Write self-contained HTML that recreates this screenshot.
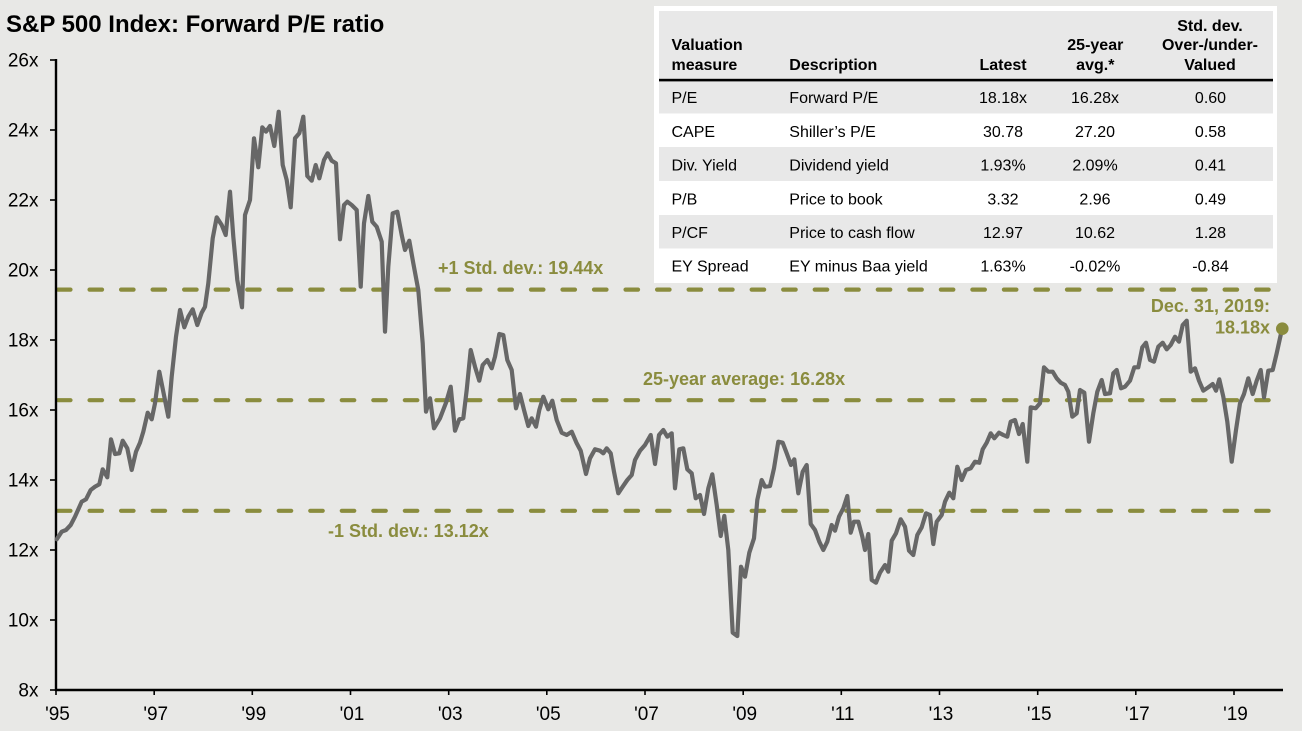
<!DOCTYPE html>
<html>
<head>
<meta charset="utf-8">
<style>
  html,body{margin:0;padding:0;background:#e8e8e6;}
  body{width:1302px;height:731px;overflow:hidden;}
  svg{display:block;font-family:"Liberation Sans",Arial,sans-serif;}
</style>
</head>
<body>
<svg width="1302" height="731" viewBox="0 0 1302 731" xmlns="http://www.w3.org/2000/svg">
  <rect x="0" y="0" width="1302" height="731" fill="#e8e8e6"/>

  <!-- Title -->
  <text x="6" y="32" font-size="24" font-weight="bold" fill="#000">S&amp;P 500 Index: Forward P/E ratio</text>

  <!-- Dashed reference lines -->
  <g stroke="#8a8c3e" stroke-width="4.2" stroke-linecap="round" stroke-dasharray="12.5 19.03" fill="none">
    <line x1="58" y1="289.6" x2="1272" y2="289.6"/>
    <line x1="58" y1="400.2" x2="1272" y2="400.2"/>
    <line x1="58" y1="510.8" x2="1272" y2="510.8"/>
  </g>

  <!-- Annotation labels -->
  <g font-size="18" font-weight="bold" fill="#8a8c3e">
    <text x="438" y="274">+1 Std. dev.: 19.44x</text>
    <text x="643" y="385">25-year average: 16.28x</text>
    <text x="328" y="537">-1 Std. dev.: 13.12x</text>
    <text x="1270" y="312" text-anchor="end">Dec. 31, 2019:</text>
    <text x="1270" y="333.5" text-anchor="end">18.18x</text>
  </g>

  <!-- Axes -->
  <g stroke="#000" stroke-width="2.4" fill="none">
    <line x1="56" y1="59" x2="56" y2="691"/>
    <line x1="55" y1="690" x2="1283" y2="690"/>
  </g>
  <g stroke="#000" stroke-width="1.6">
    <line x1="50" y1="60" x2="56" y2="60"/>
    <line x1="50" y1="130" x2="56" y2="130"/>
    <line x1="50" y1="200" x2="56" y2="200"/>
    <line x1="50" y1="270" x2="56" y2="270"/>
    <line x1="50" y1="340" x2="56" y2="340"/>
    <line x1="50" y1="410" x2="56" y2="410"/>
    <line x1="50" y1="480" x2="56" y2="480"/>
    <line x1="50" y1="550" x2="56" y2="550"/>
    <line x1="50" y1="620" x2="56" y2="620"/>
    <line x1="50" y1="690" x2="56" y2="690"/>

    <line x1="56" y1="690" x2="56" y2="695"/>
    <line x1="154.2" y1="690" x2="154.2" y2="695"/>
    <line x1="252.3" y1="690" x2="252.3" y2="695"/>
    <line x1="350.5" y1="690" x2="350.5" y2="695"/>
    <line x1="448.7" y1="690" x2="448.7" y2="695"/>
    <line x1="546.8" y1="690" x2="546.8" y2="695"/>
    <line x1="645" y1="690" x2="645" y2="695"/>
    <line x1="743.2" y1="690" x2="743.2" y2="695"/>
    <line x1="841.3" y1="690" x2="841.3" y2="695"/>
    <line x1="939.5" y1="690" x2="939.5" y2="695"/>
    <line x1="1037.7" y1="690" x2="1037.7" y2="695"/>
    <line x1="1135.8" y1="690" x2="1135.8" y2="695"/>
    <line x1="1234" y1="690" x2="1234" y2="695"/>
  </g>

  <!-- Y labels -->
  <g font-size="19" fill="#000" text-anchor="end">
    <text x="38.5" y="66.7">26x</text>
    <text x="38.5" y="136.7">24x</text>
    <text x="38.5" y="206.7">22x</text>
    <text x="38.5" y="276.7">20x</text>
    <text x="38.5" y="346.7">18x</text>
    <text x="38.5" y="416.7">16x</text>
    <text x="38.5" y="486.7">14x</text>
    <text x="38.5" y="556.7">12x</text>
    <text x="38.5" y="626.7">10x</text>
    <text x="38.5" y="696.7">8x</text>
  </g>

  <!-- X labels -->
  <g font-size="19" fill="#000" text-anchor="middle">
    <text x="57.5" y="720">'95</text>
    <text x="155.7" y="720">'97</text>
    <text x="253.8" y="720">'99</text>
    <text x="352" y="720">'01</text>
    <text x="450.2" y="720">'03</text>
    <text x="548.3" y="720">'05</text>
    <text x="646.5" y="720">'07</text>
    <text x="744.7" y="720">'09</text>
    <text x="842.8" y="720">'11</text>
    <text x="941" y="720">'13</text>
    <text x="1039.2" y="720">'15</text>
    <text x="1137.3" y="720">'17</text>
    <text x="1235.5" y="720">'19</text>
  </g>

  <!-- Data line -->
  <polyline fill="none" stroke="#676767" stroke-width="4.2" stroke-linejoin="round" stroke-linecap="round" points="
56.7,539.3 61.7,531.7 66,530 70.7,525 75,516.7 81.7,501.7 86,499.3 90.7,490 95,486.7 99.3,484.3
102.7,469.3 107.3,477.3 111,439.3 115,454 119.3,453.3 122.7,440.7 127.3,448.3 131.7,470 136,451.7 140,442.7
143.3,431.7 147.7,412.7 151.7,419.3 155,403.3 159.3,371.7 164.3,396.7 168.3,416.7 171.7,376.7 176,336.7 180,310
184.3,327.3 188.3,316.7 192.7,309.3 197.3,325 201.7,312.7 205,306.7 208.3,283.3 212.7,238.3 216.7,217.3 221.7,225
225.7,235 230,191.7 233.3,236.7 237.3,280 242,307.3 245,215 250,200 254,138.3 258.3,167.3 262.3,127.3
266,131.7 270,126 274.3,146 278.7,111.7 282.7,165 286.7,180 290.7,207.3 295,138.3 299.3,133.3 303.3,116.7
307.3,176 311.7,180.7 315.7,165 319.3,178.3 324,160 327.7,153.3 331.7,160.7 336,163.3 340,239.3 344,205
347.3,201.7 351.7,205 356.7,210 360.7,286.7 364,223.3 368.3,196 372.3,221.7 376.7,226.7 381.7,241.7 385,331.7
388.3,266.7 392.7,213.3 397.3,211.7 401.7,235 405,250 409.3,240.7 413.3,263.3 418.3,290 422.7,343.3 426,411.7
430,398.3 434,428.3 440,418.3 446,402.7 450.7,386.7 455,430.7 459.3,419.3 463.3,418.3 466.7,390 470.7,350
475,366.7 479.3,380.7 482.7,365 487.3,360 491.7,368.3 495,356.7 499.3,334 503.3,335 507.3,360 511.7,370
516,408.3 520,394 524,410 528.3,426 531.7,418.3 536,426.7 539.3,410 543.3,396.7 548.3,409.3 552.3,400.7
556.7,420 561.7,432.7 566.7,435 571.7,431.7 576.7,443.3 580.7,450.7 586,474 590,458.3 595,449.3 600,450.7
603.3,453.3 606.7,448.3 610.7,453.3 614,471.7 618.3,493.3 622.7,486.7 627.3,480 631.7,475 635,460 640,450.7
645,445 650.7,435 655,464 659,435 663.3,430 667.3,436.7 671.7,433.3 675,488.3 679.3,449.3 683.3,448.3
687.3,469.3 691.7,473.3 695.7,498.3 700,495 704,514 708.3,488.3 712.3,474.3 716.7,505 720.7,536 724.3,516
728.3,550 732.7,632.7 737.3,636 741,566.7 745,576.7 749.3,552.7 754,538.3 757.3,500 761.7,480 765,486.7
770,486 774,468.3 778.3,441.7 782.7,442.7 786.7,453.3 791,465 794.3,459.3 798.3,493.3 802.7,471.7 806.7,465
810.7,524 815,530 819.3,541.7 823.3,550 827.3,541.7 831.7,525 835,530.7 839,516.7 843.3,508.3 847.3,496
850.7,532.7 854,521.7 858.3,521.7 862.3,536.7 865,550 868.3,534 871.7,580 876,582.7 880,572.7 885,565
888.3,571.7 891.7,540.7 896,533.3 900.7,519.3 905,526.7 909,550.7 913.3,555 917.3,535 921.7,527.3 926,513.3
930,515 933.3,544 936.7,521.7 941.7,515 945,501.7 949.3,492.7 953.3,498.3 957.3,466.7 961.7,480 966,470
970.7,468.3 975,461.7 979.3,462.7 982.7,449.3 986.7,442.7 990.7,433.3 994.3,438.3 999,432.7 1003.3,435 1007.3,436.7
1010.7,421.7 1015,420 1019,434 1022.7,424 1027.3,461.7 1030.7,407.3 1035.7,408.3 1040,403.3 1044,367.3 1048.3,371.7
1052.7,371.7 1056.7,378.3 1060.7,382.7 1065,385 1068.3,391.7 1072.3,416.7 1076.7,413.3 1080,390 1084.3,392.7 1089,441.7
1093.3,413.3 1097.3,391.7 1101.7,380 1105,394 1110,393.3 1113.3,373.3 1116.7,370 1121,388.3 1125,386.7 1130,380.7
1134.3,367.3 1138.3,367.3 1142.3,347.3 1146,342.7 1150,360 1154,361.7 1158.3,346.7 1162.7,342.7 1166.7,349.3 1170.7,345
1175,336.7 1179,341.7 1182.7,325 1186.7,320.7 1190.7,371.7 1195,368.3 1199,380.7 1203.3,390.7 1208.3,387.3 1212.7,384
1216,390.7 1219.3,379.3 1223.3,396.7 1227.3,421.7 1231.7,461.7 1236,430 1240,403.3 1244,394 1248.3,378.3 1252.7,394
1256.7,380.7 1260.7,370 1264,397.3 1268.3,370.7 1272.7,370 1276.7,353.3 1282,329"/>
  <circle cx="1282.3" cy="328.7" r="6.3" fill="#8a8c3e"/>

  <!-- Table -->
  <rect x="654" y="6" width="623" height="277" fill="#ffffff"/>
  <rect x="659" y="11" width="614" height="69" fill="#e8e8e8"/>
  <rect x="659" y="81.5" width="614" height="32" fill="#e8e8e8"/>
  <rect x="659" y="147" width="614" height="34" fill="#e8e8e8"/>
  <rect x="659" y="215" width="614" height="33.5" fill="#e8e8e8"/>
  <rect x="659" y="78.8" width="614" height="2.6" fill="#000"/>

  <g font-size="16" font-weight="bold" fill="#000">
    <text x="671.5" y="50">Valuation</text>
    <text x="671.5" y="70">measure</text>
    <text x="789.3" y="70">Description</text>
    <text x="1003" y="70" text-anchor="middle">Latest</text>
    <text x="1095.3" y="50" text-anchor="middle">25-year</text>
    <text x="1095.3" y="70" text-anchor="middle">avg.*</text>
    <text x="1210" y="31" text-anchor="middle">Std. dev.</text>
    <text x="1210" y="50" text-anchor="middle">Over-/under-</text>
    <text x="1210" y="70" text-anchor="middle">Valued</text>
  </g>

  <g font-size="16" fill="#000">
    <text x="671.5" y="103">P/E</text>
    <text x="789.3" y="103">Forward P/E</text>
    <text x="1003" y="103" text-anchor="middle">18.18x</text>
    <text x="1095" y="103" text-anchor="middle">16.28x</text>
    <text x="1210.5" y="103" text-anchor="middle">0.60</text>

    <text x="671.5" y="137">CAPE</text>
    <text x="789.3" y="137">Shiller’s P/E</text>
    <text x="1003" y="137" text-anchor="middle">30.78</text>
    <text x="1095" y="137" text-anchor="middle">27.20</text>
    <text x="1210.5" y="137" text-anchor="middle">0.58</text>

    <text x="671.5" y="170.5">Div. Yield</text>
    <text x="789.3" y="170.5">Dividend yield</text>
    <text x="1003" y="170.5" text-anchor="middle">1.93%</text>
    <text x="1095" y="170.5" text-anchor="middle">2.09%</text>
    <text x="1210.5" y="170.5" text-anchor="middle">0.41</text>

    <text x="671.5" y="204.5">P/B</text>
    <text x="789.3" y="204.5">Price to book</text>
    <text x="1003" y="204.5" text-anchor="middle">3.32</text>
    <text x="1095" y="204.5" text-anchor="middle">2.96</text>
    <text x="1210.5" y="204.5" text-anchor="middle">0.49</text>

    <text x="671.5" y="238">P/CF</text>
    <text x="789.3" y="238">Price to cash flow</text>
    <text x="1003" y="238" text-anchor="middle">12.97</text>
    <text x="1095" y="238" text-anchor="middle">10.62</text>
    <text x="1210.5" y="238" text-anchor="middle">1.28</text>

    <text x="671.5" y="271.5">EY Spread</text>
    <text x="789.3" y="271.5">EY minus Baa yield</text>
    <text x="1003" y="271.5" text-anchor="middle">1.63%</text>
    <text x="1095" y="271.5" text-anchor="middle">-0.02%</text>
    <text x="1210.5" y="271.5" text-anchor="middle">-0.84</text>
  </g>
</svg>
</body>
</html>
